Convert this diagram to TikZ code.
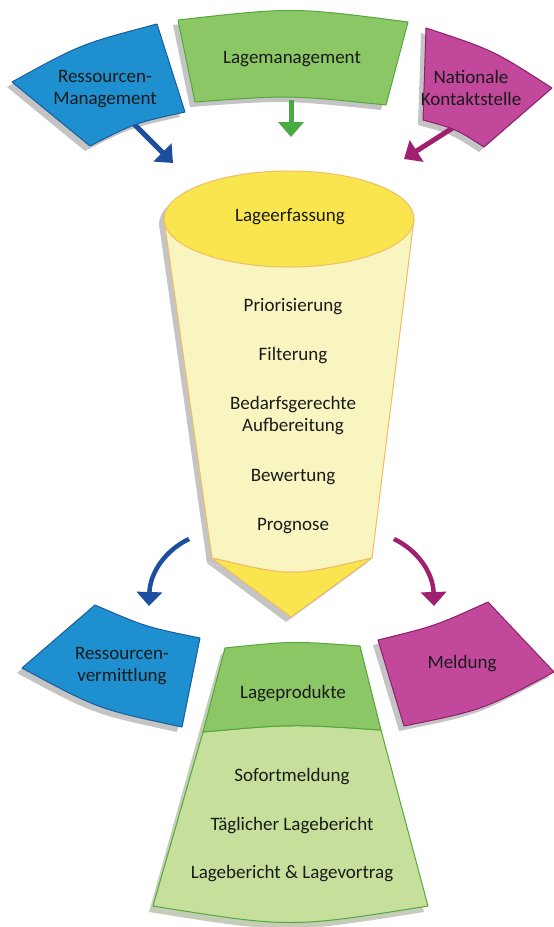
\documentclass[tikz,border=0pt]{standalone}
\usepackage{fontspec}
\setmainfont{Carlito}
\usetikzlibrary{arrows.meta}
\definecolor{bluefill}{HTML}{1E90CF}
\definecolor{blueline}{HTML}{1B5C9E}
\definecolor{greenfill}{HTML}{8CC765}
\definecolor{greenline}{HTML}{52A83C}
\definecolor{magfill}{HTML}{C2489B}
\definecolor{magline}{HTML}{8B1F6A}
\definecolor{bluearr}{HTML}{1D4F9C}
\definecolor{greenarr}{HTML}{49AA42}
\definecolor{magarr}{HTML}{A02070}
\definecolor{yelfill}{HTML}{F9E64F}
\definecolor{yelline}{HTML}{F2BC62}
\definecolor{creamfill}{HTML}{F8F5C0}
\definecolor{lightgreen}{HTML}{C6E09C}
\definecolor{shadowc}{HTML}{C4C4C4}
\definecolor{txt}{HTML}{1A1A1A}
\def\pBT{(12,82) .. controls (81,44) .. (157,24) -- (185,112) .. controls (135,123) .. (90,146) -- cycle}
\def\pGT{(178,20) .. controls (293,7) .. (408,22) -- (386,105) .. controls (290,95) .. (195,102) -- cycle}
\def\pMT{(426,28) .. controls (493,50) .. (552,88) -- (484,147) .. controls (456,129) .. (423,120) -- cycle}
\def\pBody{(164,219) -- (212,558) .. controls (292,577) .. (372,558) -- (414,219) -- cycle}
\def\pTri{(212,558) .. controls (292,577) .. (372,558) -- (291,617) -- cycle}
\def\pBB{(95,605) .. controls (146,627) .. (200,638) -- (182,727) .. controls (98,709) .. (22,668) -- cycle}
\def\pMB{(378,640) .. controls (435,626) .. (488,602) -- (554,672) .. controls (483,710) .. (404,726) -- cycle}
\def\pGBtop{(225,648) .. controls (292,641) .. (360,646) -- (381,730) .. controls (292,724) .. (203,732) -- cycle}
\def\pGBlow{(203,732) .. controls (292,724) .. (381,730) -- (428,906) .. controls (290,928) .. (153,906) -- cycle}
\def\pGBall{(225,648) .. controls (292,641) .. (360,646) -- (428,906) .. controls (290,928) .. (153,906) -- cycle}
\begin{document}
\begin{tikzpicture}[x=1pt,y=-1pt,
  lbl/.style={font=\fontsize{19}{22}\selectfont, text=txt, align=center, inner sep=0pt},
  shd/.style={fill=shadowc, draw=none, shift={(-5,5)}},
  bluebox/.style={fill=bluefill, draw=blueline, line width=1pt, line join=round},
  greenbox/.style={fill=greenfill, draw=greenline, line width=1pt, line join=round},
  magbox/.style={fill=magfill, draw=magline, line width=1pt, line join=round},
  yelbox/.style={draw=yelline, line width=1pt, line join=round},
  arr/.style={line width=5pt, -{Triangle[width=25pt,length=15pt]}},
  carr/.style={line width=4.5pt, -{Triangle[width=25pt,length=14pt]}}]
\useasboundingbox (0,0) rectangle (554,927);
% shadows
\fill[shd] \pBT;
\fill[shd] \pGT;
\fill[shd] \pMT;
\fill[shd] \pBody;
\fill[shd] \pTri;
\fill[shd] (289,219) ellipse [x radius=125pt, y radius=48pt];
\fill[shd] \pBB;
\fill[shd] \pMB;
\fill[shadowc!70!lightgreen, shift={(-4,6)}] \pGBall;
% connector end points
\coordinate (a1s) at (132,122); \coordinate (a1e) at (173,163);
\coordinate (a2s) at (291,100); \coordinate (a2e) at (291,137);
\coordinate (a3s) at (462,122); \coordinate (a3e) at (404,159);
\coordinate (b1s) at (189,539); \coordinate (b1e) at (149,606);
\coordinate (b2s) at (394,539); \coordinate (b2e) at (434,606);
% arrows
\draw[arr, bluearr] (a1s) -- (a1e);
\draw[arr, greenarr] (a2s) -- (a2e);
\draw[arr, magarr] (a3s) -- (a3e);
\draw[carr, bluearr] (b1s) .. controls (166,550) and (150,572) .. (b1e);
\draw[carr, magarr] (b2s) .. controls (417,550) and (433,572) .. (b2e);
% top shapes
\draw[bluebox] \pBT;
\draw[greenbox] \pGT;
\draw[magbox] \pMT;
% funnel
\draw[yelbox, fill=creamfill] \pBody;
\draw[yelbox, fill=yelfill] \pTri;
\draw[yelbox, fill=yelfill] (289,219) ellipse [x radius=125pt, y radius=48pt];
% bottom shapes
\draw[bluebox] \pBB;
\draw[magbox] \pMB;
\draw[greenbox, fill=lightgreen] \pGBlow;
\draw[greenbox] \pGBtop;
% labels
\node[lbl] (rm) at (105,89) {Ressourcen-\\Management};
\node[lbl] (lm) at (292,59) {Lagemanagement};
\node[lbl] (nk) at (471,88) {Nationale\\Kontaktstelle};
\node[lbl] (le) at (290,217) {Lageerfassung};
\node[lbl] (pr) at (293,307) {Priorisierung};
\node[lbl] (fi) at (293,356) {Filterung};
\node[lbl] (ba) at (293,416) {Bedarfsgerechte\\Aufbereitung};
\node[lbl] (bw) at (293,477) {Bewertung};
\node[lbl] (pg) at (293,526) {Prognose};
\node[lbl] (rv) at (122,666) {Ressourcen-\\vermittlung};
\node[lbl] (me) at (462,664) {Meldung};
\node[lbl] (lp) at (293,694) {Lageprodukte};
\node[lbl] (so) at (292,777) {Sofortmeldung};
\node[lbl] (tl) at (292,826) {Täglicher Lagebericht};
\node[lbl] (lb) at (292,874) {Lagebericht \& Lagevortrag};
\end{tikzpicture}
\end{document}
